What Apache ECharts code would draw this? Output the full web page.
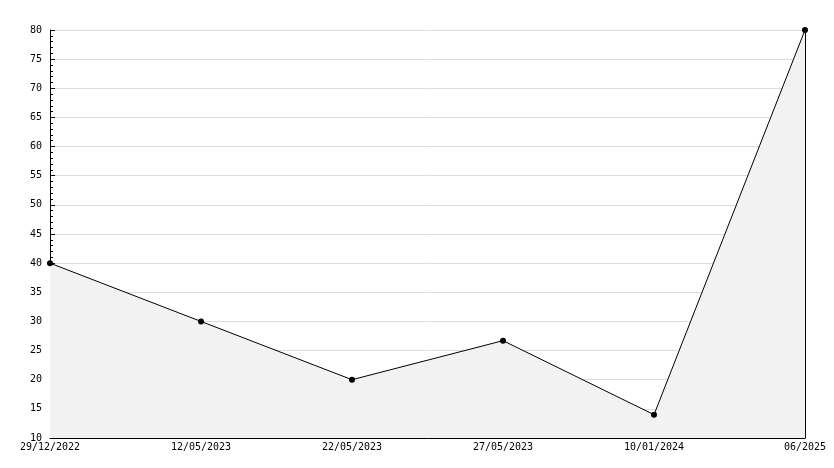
<!DOCTYPE html>
<html><head><meta charset="utf-8">
<script src="https://cdn.jsdelivr.net/npm/echarts@6/dist/echarts.min.js"></script>
<style>html,body{margin:0;padding:0;background:#fff}#c{width:834px;height:468px}</style>
</head><body><div id="c"></div>
<script>
const categories = ['29/12/2022','12/05/2023','22/05/2023','27/05/2023','10/01/2024','06/2025'];
const values = [40, 30, 20, 26.7, 14, 80];
const yMin = 10, yMax = 80, yStep = 5;

const chart = echarts.init(document.getElementById('c'));
const font = 'DejaVu Sans Mono';
chart.setOption({
  animation: false,
  grid: {left: 50, right: 29, top: 30, bottom: 30, containLabel: false},
  xAxis: {
    type: 'category', data: categories, boundaryGap: false,
    axisLine: {lineStyle: {color: '#000', width: 1}},
    axisTick: {inside: true, length: 5, lineStyle: {color: '#000'}, alignWithLabel: true},
    axisLabel: {color: '#000', fontFamily: font, fontSize: 10, margin: 4, showMinLabel: true, showMaxLabel: true, interval: 0},
    splitLine: {show: false}
  },
  yAxis: {
    type: 'value', min: yMin, max: yMax, interval: yStep,
    axisLine: {show: true, lineStyle: {color: '#000', width: 1}},
    axisTick: {show: true, inside: true, length: 5, lineStyle: {color: '#000'}},
    minorTick: {show: true, splitNumber: 5, length: 3, lineStyle: {color: '#000'}},
    axisLabel: {color: '#000', fontFamily: font, fontSize: 10, margin: 8},
    splitLine: {show: true, lineStyle: {color: '#dcdcdc', width: 1}}
  },
  series: [{
    type: 'line', data: values,
    lineStyle: {color: '#000', width: 1},
    itemStyle: {color: '#000'},
    symbol: 'circle', symbolSize: 6,
    areaStyle: {color: '#f2f2f2', opacity: 1},
    markLine: {
      silent: true, symbol: 'none', label: {show: false},
      lineStyle: {color: '#000', width: 1, type: 'solid'},
      data: [[{coord: [categories[categories.length-1], yMin]}, {coord: [categories[categories.length-1], values[values.length-1]]}]]
    }
  }]
});
</script></body></html>
